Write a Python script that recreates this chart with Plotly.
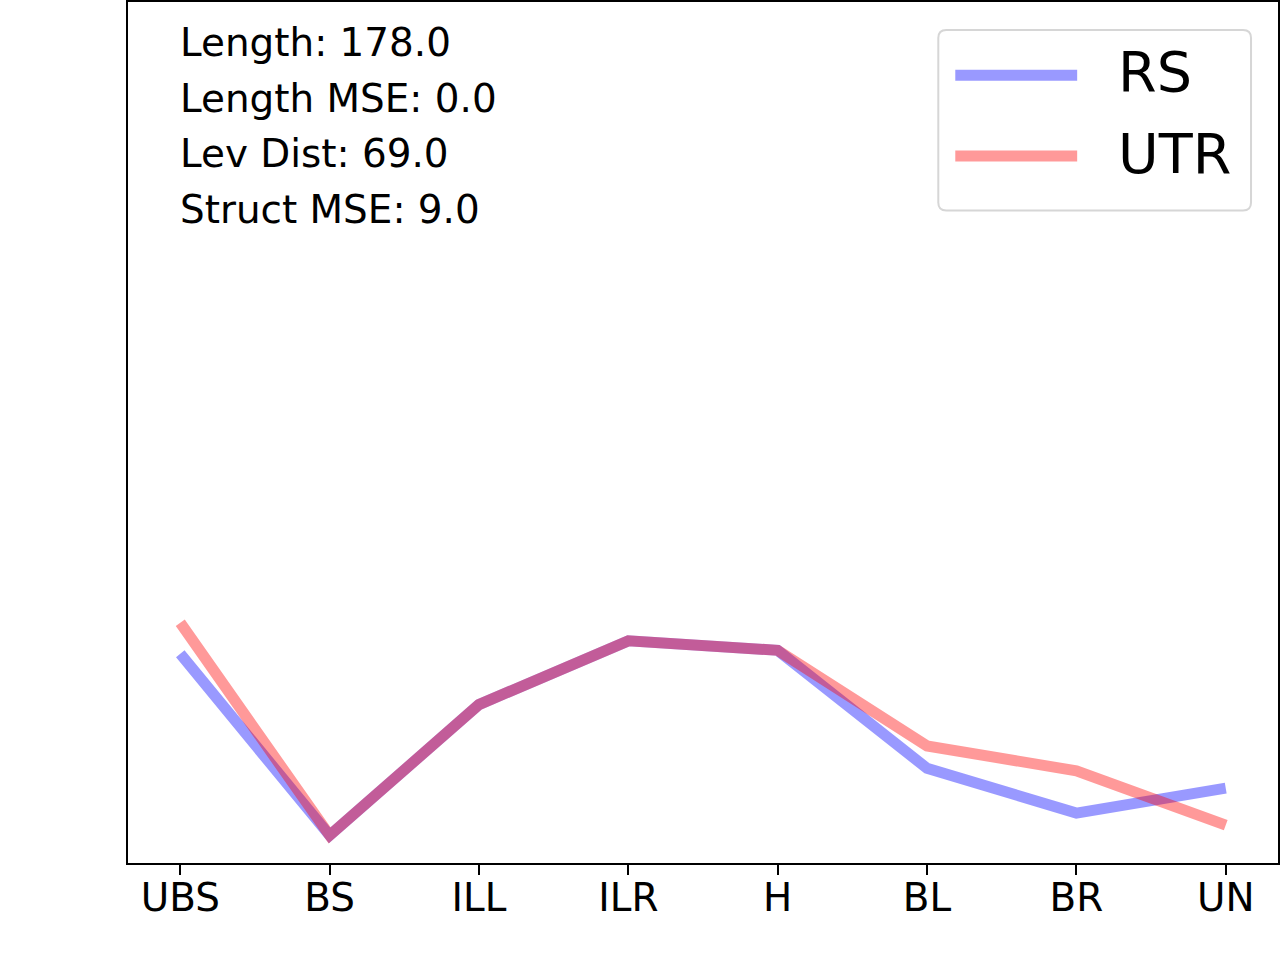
import plotly.graph_objects as go

# categories along x
regions = ["UBS", "BS", "ILL", "ILR", "H", "BL", "BR", "UN"]

# values (y axis has no ticks, scale 0-100)
rs_vals = [24.3, 3.2, 18.4, 25.8, 24.7, 11.0, 5.8, 8.7]
utr_vals = [27.9, 3.2, 18.4, 25.8, 24.7, 13.6, 10.7, 4.4]

stats_lines = ["Length: 178.0", "Length MSE: 0.0", "Lev Dist: 69.0", "Struct MSE: 9.0"]

W, H = 1280, 960
L, R, T, B = 128, 1, 0, 97
PW, PH = W - L - R, H - T - B

FONT = "DejaVu Sans"
BLUE = "rgba(0,0,255,0.4)"
RED = "rgba(255,0,0,0.4)"


# pixel -> paper helpers for the hand-drawn legend and text box
def px(x):
    return (x - L) / PW


def py(y):
    return (H - B - y) / PH


fig = go.Figure()
fig.add_trace(go.Scatter(x=regions, y=rs_vals, mode="lines", name="RS",
                         line=dict(color=BLUE, width=11), hoverinfo="skip"))
fig.add_trace(go.Scatter(x=regions, y=utr_vals, mode="lines", name="UTR",
                         line=dict(color=RED, width=11), hoverinfo="skip"))

# stats text, top left
for i, s in enumerate(stats_lines):
    fig.add_annotation(x=px(178), y=py(41 + 55.5 * i), xref="paper", yref="paper",
                       text=s, showarrow=False, xanchor="left", yanchor="middle",
                       font=dict(family=FONT, size=38.9, color="black"))

# legend box (matplotlib style, rounded corners)
x0, x1, y0, y1, r = px(939), px(1252), py(28), py(209), 8
rx, ry = r / PW, r / PH
path = (f"M{x0 + rx},{y0} L{x1 - rx},{y0} Q{x1},{y0} {x1},{y0 - ry} "
        f"L{x1},{y1 + ry} Q{x1},{y1} {x1 - rx},{y1} L{x0 + rx},{y1} "
        f"Q{x0},{y1} {x0},{y1 + ry} L{x0},{y0 - ry} Q{x0},{y0} {x0 + rx},{y0} Z")
fig.add_shape(type="path", path=path, xref="paper", yref="paper",
              line=dict(color="#d6d6d6", width=2), fillcolor="rgba(255,255,255,0.8)")

for name, col, yc, ty in [("RS", BLUE, 73.3, 69.5), ("UTR", RED, 154.3, 151.5)]:
    fig.add_shape(type="line", xref="paper", yref="paper",
                  x0=px(956), x1=px(1078), y0=py(yc), y1=py(yc),
                  line=dict(color=col, width=11))
    fig.add_annotation(x=px(1117), y=py(ty), xref="paper", yref="paper",
                       text=name, showarrow=False, xanchor="left", yanchor="middle",
                       font=dict(family=FONT, size=55.6, color="black"))

fig.update_layout(
    width=W, height=H,
    margin=dict(l=L, r=R, t=T, b=B),
    paper_bgcolor="white", plot_bgcolor="white",
    showlegend=False,
    font=dict(family=FONT, color="black"),
)
fig.update_xaxes(range=[-0.35, 7.35], showgrid=False, zeroline=False,
                 showline=True, linecolor="black", linewidth=2, mirror=True,
                 ticks="outside", ticklen=10, tickwidth=2, tickcolor="black",
                 ticklabelstandoff=-11,
                 tickfont=dict(family=FONT, size=38.9, color="black"))
fig.update_yaxes(range=[0, 100], showgrid=False, zeroline=False,
                 showline=True, linecolor="black", linewidth=2, mirror=True,
                 showticklabels=False, ticks="")

fig.write_html("out.html", config={"displayModeBar": False},
               post_script="document.body.style.margin='0px';")
